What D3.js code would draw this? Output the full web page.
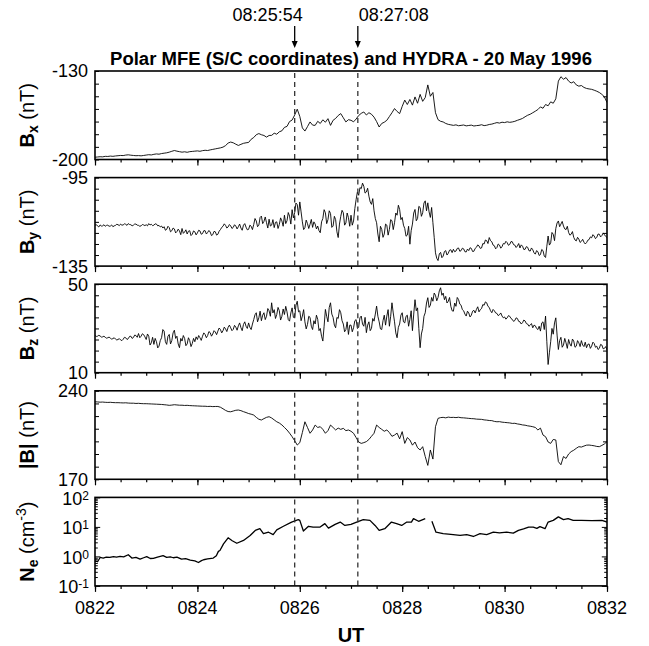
<!DOCTYPE html>
<html><head><meta charset="utf-8">
<script src="https://cdn.jsdelivr.net/npm/d3@7"></script>
<style>
body{margin:0;background:#fff}
text{font-family:"Liberation Sans",Arial,Helvetica,sans-serif;fill:#000}
</style>
</head><body>
<svg id="c" width="649" height="646"></svg>
<script>
// ---- DATA ----
// magnetometer samples: minutes after 08:22 UT
const timeStart = 0;
const coarseStep = 0.05;   // Bx, |B|
const fineStep = 0.025;    // By, Bz
const xTickLabels = ["0822","0824","0826","0828","0830","0832"];
const markerTimes = [3.9, 5.1333];          // 08:25:54, 08:27:08
const markerLabels = ["08:25:54","08:27:08"];
const titleText = "Polar MFE (S/C coordinates) and HYDRA - 20 May 1996";

const bxValues = [
-198.2,-198.0,-197.8,-197.9,-197.5,-197.6,-197.3,-197.5,-197.2,-197.0,-196.8,-196.9,-196.5,-196.3,-196.6,-196.8,-197.0,-196.9,-197.1,-196.8,
-196.5,-196.2,-196.4,-195.9,-195.6,-195.8,-195.3,-195.0,-194.7,-194.2,-193.5,-192.9,-193.4,-193.8,-194.2,-193.9,-194.3,-193.8,-193.6,-193.4,
-193.2,-193.5,-193.0,-192.7,-192.9,-192.4,-192.0,-191.6,-191.2,-190.8,-190.2,-189.0,-187.0,-186.2,-186.8,-187.9,-188.9,-188.0,-187.2,-186.8,
-186.5,-184.0,-182.6,-180.4,-179.5,-180.4,-181.0,-182.3,-181.0,-180.9,-179.2,-180.0,-178.1,-177.3,-174.6,-173.8,-170.0,-168.8,-164.8,-160.2,
-166.0,-175.0,-177.5,-174.0,-170.3,-172.8,-173.0,-169.8,-171.5,-168.6,-170.5,-167.7,-173.0,-169.0,-167.5,-165.2,-163.7,-167.0,-170.3,-168.5,
-169.0,-170.2,-168.0,-165.2,-163.5,-162.4,-164.8,-163.0,-164.2,-166.5,-170.0,-174.3,-171.5,-170.5,-169.0,-166.0,-163.0,-159.7,-162.0,-163.7,
-158.0,-153.0,-156.5,-152.5,-157.0,-150.5,-155.5,-148.5,-154.0,-151.0,-141.0,-150.0,-147.0,-163.0,-168.5,-169.8,-170.3,-171.5,-172.2,-172.6,
-173.0,-172.6,-173.3,-173.0,-172.7,-173.4,-173.1,-172.8,-173.5,-173.2,-173.0,-172.5,-173.2,-172.9,-172.3,-172.0,-171.4,-170.8,-171.2,-170.5,
-170.8,-170.2,-170.6,-170.3,-169.8,-169.0,-168.3,-167.5,-166.2,-165.0,-164.2,-163.0,-161.8,-160.5,-158.4,-159.5,-156.5,-157.5,-154.4,-155.5,
-152.0,-138.0,-134.5,-136.5,-135.2,-138.0,-139.5,-138.5,-141.0,-142.0,-141.5,-143.0,-143.8,-144.2,-144.5,-145.2,-146.0,-147.0,-148.5,-150.5,
-155.0];

const byValues = [
-116.6,-116.2,-116.9,-117.3,-116.4,-116.9,-116.8,-116.3,-117.0,-116.6,-116.5,-117.0,-116.9,-116.4,-117.2,-116.8,-116.6,-116.1,-116.3,-116.7,
-116.0,-116.5,-116.4,-115.9,-116.1,-116.6,-115.8,-116.2,-116.3,-116.8,-116.5,-116.0,-116.0,-116.5,-116.6,-117.0,-116.8,-116.2,-116.4,-116.7,
-116.3,-116.8,-115.8,-116.4,-116.1,-116.7,-116.5,-115.9,-116.0,-116.8,-116.6,-117.3,-116.9,-117.8,-117.2,-118.8,-118.4,-117.0,-117.6,-119.5,
-119.0,-117.8,-118.2,-120.0,-119.4,-118.3,-119.1,-120.8,-118.0,-120.2,-119.6,-118.6,-120.5,-119.2,-119.0,-121.2,-120.6,-119.1,-119.5,-120.9,
-120.0,-118.8,-119.1,-120.6,-120.3,-119.0,-119.0,-120.5,-119.8,-118.9,-119.6,-121.2,-120.8,-119.3,-119.5,-121.0,-120.6,-119.2,-118.5,-117.5,
-117.0,-115.9,-116.6,-117.8,-117.3,-116.2,-116.8,-118.0,-117.5,-116.3,-116.9,-118.2,-117.2,-116.0,-117.8,-118.8,-116.5,-115.8,-117.4,-118.6,
-118.4,-116.5,-117.0,-118.5,-116.2,-113.5,-114.6,-117.2,-116.5,-113.0,-112.4,-115.8,-114.8,-112.8,-115.4,-117.8,-113.8,-116.9,-116.5,-114.0,
-117.6,-115.2,-115.0,-118.0,-116.2,-113.2,-114.6,-117.0,-112.0,-115.8,-114.5,-110.8,-112.4,-116.0,-109.5,-113.2,-110.8,-106.5,-107.2,-112.0,
-106.0,-110.5,-115.0,-118.5,-117.6,-114.2,-115.8,-118.0,-116.1,-113.9,-117.5,-115.0,-116.0,-118.2,-116.9,-119.0,-119.9,-115.0,-113.5,-109.5,
-110.9,-115.8,-114.0,-110.0,-111.2,-117.5,-116.9,-112.5,-114.0,-119.5,-122.1,-116.0,-112.5,-109.8,-110.9,-116.5,-115.5,-111.0,-113.1,-117.0,
-112.0,-116.5,-114.6,-109.0,-104.9,-101.5,-103.0,-99.5,-100.0,-97.5,-98.9,-102.0,-101.5,-99.8,-103.4,-106.0,-107.1,-104.5,-110.0,-113.5,
-115.4,-120.5,-124.0,-117.0,-118.4,-122.0,-120.5,-116.0,-116.5,-121.0,-118.4,-114.0,-114.5,-118.5,-115.4,-111.0,-112.0,-107.5,-109.4,-114.0,
-113.0,-116.5,-118.0,-121.5,-121.0,-117.0,-125.1,-119.0,-116.0,-111.0,-109.4,-114.5,-113.5,-108.0,-108.5,-112.5,-110.9,-106.5,-105.5,-110.0,
-106.4,-110.5,-113.0,-108.5,-115.4,-122.0,-129.0,-131.5,-132.5,-129.5,-128.8,-131.2,-130.5,-128.4,-128.0,-130.0,-129.2,-127.8,-127.6,-128.9,
-127.4,-128.5,-128.2,-127.0,-126.8,-128.3,-128.0,-126.9,-127.2,-128.5,-128.6,-127.3,-128.0,-126.7,-127.0,-128.4,-128.3,-127.0,-126.5,-125.4,
-125.9,-127.0,-126.8,-124.8,-125.0,-123.2,-123.5,-124.8,-122.1,-123.5,-124.0,-125.5,-125.8,-127.2,-126.6,-125.0,-125.5,-126.9,-126.2,-124.8,
-125.0,-123.8,-124.4,-125.6,-125.2,-123.9,-124.0,-125.3,-125.5,-126.6,-125.9,-124.8,-126.8,-125.4,-126.0,-127.5,-127.4,-126.2,-126.5,-128.0,
-128.2,-126.8,-127.6,-129.0,-129.6,-128.0,-128.5,-130.2,-129.8,-127.5,-128.0,-130.5,-131.1,-126.0,-121.4,-125.5,-124.5,-119.8,-120.6,-123.5,
-118.0,-115.5,-114.6,-117.2,-116.0,-114.8,-116.9,-118.2,-118.5,-117.0,-119.8,-121.0,-120.6,-119.4,-122.0,-123.2,-123.6,-122.0,-122.8,-124.3,
-123.8,-122.9,-124.2,-125.0,-124.4,-123.3,-123.0,-121.8,-122.2,-120.8,-121.4,-122.6,-122.0,-120.5,-120.6,-121.8,-121.2,-120.0,-120.8,-121.6,
-122.1];

const bzValues = [
26.8,26.4,26.5,26.9,26.6,26.1,26.2,26.5,26.0,25.6,25.8,26.1,25.6,25.2,25.4,25.8,25.2,24.8,25.0,25.4,
24.8,24.5,25.1,26.0,25.8,25.0,25.4,26.4,26.5,25.5,25.9,27.0,26.8,26.0,27.7,25.8,26.5,27.6,27.2,26.2,
25.0,27.5,26.5,22.5,23.5,26.0,22.8,25.5,24.0,21.2,22.0,24.5,25.8,29.5,28.8,24.0,22.8,26.5,27.3,23.0,
24.5,28.0,29.2,25.5,26.5,23.0,21.3,25.5,24.3,26.8,25.5,22.2,23.0,25.8,24.5,21.8,23.2,25.5,24.0,26.2,
25.0,26.8,25.8,24.6,26.5,28.0,27.3,25.8,26.8,28.6,28.1,26.5,27.5,29.0,28.4,27.2,28.8,30.2,29.5,28.0,
29.0,30.6,29.8,28.6,30.5,31.5,30.3,29.0,29.6,31.4,30.6,29.2,31.2,32.5,30.4,29.0,31.8,33.0,31.0,30.0,
32.5,30.5,29.5,32.0,34.0,36.2,37.1,33.0,34.8,37.8,33.5,36.0,37.1,34.0,35.5,39.0,38.0,35.5,41.6,37.0,
38.5,34.5,36.3,39.5,38.0,33.8,35.5,38.8,36.3,40.0,37.5,34.0,33.3,37.0,39.3,35.0,35.0,40.5,42.3,37.5,
38.0,33.5,35.6,38.5,33.0,29.8,31.8,35.5,35.0,31.0,29.5,33.5,32.0,36.0,34.1,29.0,30.0,26.5,24.3,31.0,
38.6,35.5,33.0,39.5,41.6,36.5,35.0,31.5,30.3,35.0,34.5,38.5,37.1,33.5,32.0,28.5,29.5,33.0,27.3,31.5,
31.5,28.5,30.3,33.5,34.0,30.0,30.5,34.8,35.6,32.0,31.0,35.0,28.1,31.5,33.0,29.0,30.0,34.5,33.3,36.5,
40.1,35.5,33.0,29.8,29.5,33.5,36.0,31.5,35.6,38.5,31.0,35.5,41.6,37.0,33.0,28.0,25.8,30.5,32.0,36.0,
37.1,33.0,32.5,35.5,36.0,31.0,34.1,38.0,29.0,36.5,43.0,38.0,39.3,30.0,21.3,27.5,30.0,35.5,37.1,41.5,
43.9,39.5,40.5,44.0,42.3,46.0,45.0,42.5,44.0,47.0,48.4,45.0,46.0,43.0,44.5,41.5,42.3,44.0,40.0,38.0,
37.8,41.5,40.0,44.0,43.1,41.0,40.5,38.5,38.0,36.5,35.6,37.8,37.0,35.2,36.0,37.8,38.2,37.0,38.6,39.8,
37.5,38.5,39.0,40.8,40.5,42.0,41.6,40.0,39.5,38.0,37.1,38.6,38.0,37.0,36.8,35.8,36.2,37.0,35.6,34.8,
35.2,34.2,34.8,35.8,35.5,34.5,34.1,33.2,33.6,34.8,34.5,33.2,33.0,32.0,32.6,33.8,33.4,32.2,32.0,31.0,
31.5,32.2,30.3,31.5,31.2,30.0,29.5,31.0,28.8,32.5,33.0,29.5,35.6,24.0,13.7,19.0,24.0,30.0,27.4,32.5,
34.8,27.0,20.5,24.5,26.0,21.5,22.5,25.5,23.5,21.0,25.0,23.0,22.0,25.2,24.3,21.5,22.0,24.5,23.5,21.8,
24.5,22.5,21.8,23.8,21.3,22.8,23.0,21.0,22.0,23.8,23.2,21.5,22.0,20.5,21.0,22.8,22.5,20.8,21.0,21.8,
20.3];

const bmagValues = [
231.3,231.2,231.0,231.1,230.9,230.8,230.9,230.7,230.6,230.6,230.5,230.4,230.5,230.3,230.2,230.2,230.0,230.1,229.9,229.8,
229.8,229.7,229.6,229.5,229.4,229.3,229.2,229.0,228.8,228.5,228.7,229.0,228.8,228.6,228.6,228.4,228.5,228.3,228.2,228.1,
228.0,227.9,227.8,227.8,227.6,227.7,227.5,227.6,227.6,227.0,225.8,224.5,223.6,223.4,224.0,224.6,224.8,224.3,223.5,222.8,
222.0,221.5,220.8,219.0,217.5,216.9,218.0,219.0,219.5,218.5,217.0,215.5,214.5,213.0,211.0,209.0,206.5,203.7,200.5,197.1,
199.0,207.0,215.5,211.0,206.4,209.0,212.9,211.0,211.6,209.5,206.4,208.5,212.9,211.0,209.0,210.5,209.5,210.3,208.5,209.0,
208.0,206.4,203.0,199.5,198.4,199.0,199.8,201.5,204.0,206.4,212.9,211.0,209.5,208.0,209.0,207.0,204.0,205.0,206.5,202.0,
207.7,198.4,203.0,201.1,197.0,199.5,195.0,193.2,195.8,188.0,181.0,193.2,186.0,211.6,218.2,218.8,219.0,218.6,219.2,218.9,
219.0,218.8,219.1,218.7,218.6,218.4,218.2,218.0,217.9,217.6,217.5,217.4,217.0,216.8,216.5,216.4,215.8,215.5,215.6,215.2,
215.0,214.8,214.6,214.2,214.3,213.8,213.5,213.0,212.8,212.3,212.0,211.6,211.0,209.0,210.5,205.0,203.7,199.5,198.4,201.5,
201.1,184.0,181.5,188.0,186.5,190.0,191.9,193.0,194.5,195.8,195.5,196.3,197.0,197.1,196.8,196.5,196.0,195.8,196.8,198.0,
199.8];

// HYDRA electron density (cm^-3), minutes after 08:22 UT; null = data gap
const neTime = [
0.00,0.05,0.10,0.16,0.22,0.29,0.36,0.42,0.49,0.56,
0.65,0.72,0.80,0.88,0.95,1.01,1.08,1.14,1.22,1.33,
1.40,1.47,1.53,1.60,1.69,1.77,1.86,1.95,2.02,2.08,
2.12,2.20,2.31,2.37,2.41,2.44,2.51,2.60,2.68,2.77,
2.90,3.03,3.13,3.22,3.29,3.39,3.48,3.55,3.68,3.84,
3.97,4.00,4.07,4.17,4.26,4.39,4.49,4.56,4.69,4.79,
4.88,5.00,5.11,5.24,5.37,5.47,5.55,5.66,5.79,5.89,
5.99,6.09,6.18,6.22,6.32,6.45,6.50,6.58,6.66,6.80,
6.95,7.13,7.26,7.39,7.52,7.65,7.78,7.90,8.04,8.17,
8.27,8.37,8.47,8.56,8.63,8.69,8.79,8.85,8.95,9.05,
9.15,9.24,9.34,9.50,9.70,9.90,10.00];
const neValue = [
0.71,0.66,0.92,0.88,0.95,0.92,0.98,0.95,1.00,0.97,
1.14,0.88,0.93,0.81,0.90,0.98,0.85,0.86,0.95,1.06,
0.93,0.97,0.90,0.95,0.81,0.84,0.75,0.70,0.62,0.72,
0.77,0.82,0.88,1.05,1.48,1.58,2.66,4.27,3.40,2.79,
3.47,5.13,7.59,8.71,5.89,6.61,5.50,7.94,10.5,14.6,
17.6,16.6,7.24,10.5,9.77,9.77,12.9,9.12,12.2,14.6,
11.2,12.2,14.6,17.6,16.6,11.2,7.59,8.71,14.6,12.9,
11.2,14.6,14.6,19.1,15.5,19.1,null,15.5,6.61,5.89,
5.60,5.13,5.50,4.73,5.89,5.50,6.61,6.30,6.61,6.17,
7.60,8.50,9.80,9.77,8.90,10.2,8.70,14.6,16.6,21.9,
17.6,19.1,16.6,16.6,16.2,16.6,14.6];

const neTickLabels = [[0.1,"-1"],[1,"0"],[10,"1"],[100,"2"]];

// ---- DRAWING ----
const svg = d3.select("#c");
const FONT = 18;
const x = d3.scaleLinear().domain([0, 10]).range([95, 607]);
const panelTop0 = 71, panelStep = 106.6, panelH = 88.5;

const panels = [
  {values: bxValues, step: coarseStep, domain: [-200, -130], tstep: 10,
   label: [{t:"B", w:"bold"}, {t:"x", w:"bold", sub:true}, {t:" (nT)"}]},
  {values: byValues, step: fineStep, domain: [-135, -95], tstep: 5,
   label: [{t:"B", w:"bold"}, {t:"y", w:"bold", sub:true}, {t:" (nT)"}]},
  {values: bzValues, step: fineStep, domain: [10, 50], tstep: 5,
   label: [{t:"B", w:"bold"}, {t:"z", w:"bold", sub:true}, {t:" (nT)"}]},
  {values: bmagValues, step: coarseStep, domain: [170, 240], tstep: 10,
   label: [{t:"|B|", w:"bold"}, {t:" (nT)"}]},
  {log: true, domain: [0.1, 100],
   label: [{t:"N", w:"bold"}, {t:"e", w:"bold", sub:true}, {t:" (cm"}, {t:"-3", sup:true}, {t:")"}]}
];

const defs = svg.append("defs");

panels.forEach((p, i) => {
  const top = panelTop0 + i * panelStep, bot = top + panelH;
  const y = (p.log ? d3.scaleLog() : d3.scaleLinear()).domain(p.domain).range([bot, top]);
  const g = svg.append("g");

  defs.append("clipPath").attr("id", "clip" + i)
    .append("rect").attr("x", x(0)).attr("y", top).attr("width", x(10) - x(0)).attr("height", panelH);

  // data line
  if (!p.log) {
    const line = d3.line().x((d, j) => x(timeStart + j * p.step)).y(d => y(d));
    g.append("path").datum(p.values).attr("clip-path", `url(#clip${i})`)
      .attr("d", line).attr("fill", "none").attr("stroke", "#000")
      .attr("stroke-width", 0.9).attr("stroke-linejoin", "round");
  } else {
    const pts = neTime.map((t, j) => ({t, v: neValue[j]}));
    const line = d3.line().defined(d => d.v != null).x(d => x(d.t)).y(d => y(d.v));
    g.append("path").datum(pts).attr("clip-path", `url(#clip${i})`)
      .attr("d", line).attr("fill", "none").attr("stroke", "#000")
      .attr("stroke-width", 1.3).attr("stroke-linejoin", "round");
  }

  // dashed event lines
  markerTimes.forEach(t => {
    g.append("line").attr("x1", x(t)).attr("x2", x(t)).attr("y1", top + 2).attr("y2", bot)
      .attr("stroke", "#333").attr("stroke-width", 1.3).attr("stroke-dasharray", "5,4");
  });

  // y ticks (inward, both sides)
  let ticks, majorTest;
  if (!p.log) {
    ticks = d3.range(p.domain[0], p.domain[1] + 0.001, p.tstep);
    majorTest = () => true;
  } else {
    ticks = y.ticks();
    majorTest = v => Math.abs(Math.log10(v) - Math.round(Math.log10(v))) < 1e-6;
  }
  const yL = g.append("g").attr("transform", `translate(${x(0)},0)`)
    .call(d3.axisLeft(y).tickValues(ticks).tickFormat("").tickSizeOuter(0).tickSizeInner(-4));
  const yR = g.append("g").attr("transform", `translate(${x(10)},0)`)
    .call(d3.axisRight(y).tickValues(ticks).tickFormat("").tickSizeOuter(0).tickSizeInner(-4));
  [yL, yR].forEach(a => {
    a.select(".domain").remove();
    a.selectAll(".tick line").attr("stroke", "#000").attr("stroke-width", 1)
      .attr("x2", function(d){ const s = +d3.select(this).attr("x2"); return majorTest(d) ? s * (p.log ? 1.3 : 1) : s * 0.7; });
  });

  // x ticks (outward at bottom)
  const minor = x.ticks(20);
  const major = x.ticks(5);
  const xa = g.append("g").attr("transform", `translate(0,${bot})`)
    .call(d3.axisBottom(x).tickValues(minor).tickFormat("").tickSizeOuter(0).tickSizeInner(3));
  xa.select(".domain").remove();
  xa.selectAll(".tick line").attr("stroke-width", 1.2);
  const xb = g.append("g").attr("transform", `translate(0,${bot})`)
    .call(d3.axisBottom(x).tickValues(major).tickFormat("").tickSizeOuter(0).tickSizeInner(6));
  xb.select(".domain").remove();
  xb.selectAll(".tick line").attr("stroke-width", 1.2);

  // frame
  g.append("rect").attr("x", x(0)).attr("y", top).attr("width", x(10) - x(0)).attr("height", panelH)
    .attr("fill", "none").attr("stroke", "#000").attr("stroke-width", 1.6);

  // y tick labels
  if (!p.log) {
    [p.domain[0], p.domain[1]].forEach(v => {
      g.append("text").attr("x", 88).attr("y", y(v)).attr("dy", "0.36em")
        .attr("text-anchor", "end").style("font-size", FONT + "px").text(v);
    });
  } else {
    neTickLabels.forEach(([v, e]) => {
      const t = g.append("text").attr("x", 89).attr("y", y(v) + 1).attr("dy", "0.36em")
        .attr("text-anchor", "end").style("font-size", FONT + "px");
      t.append("tspan").text("10");
      t.append("tspan").attr("dy", -5).style("font-size", "12px").text(e);
    });
    // x tick labels
    major.forEach((v, k) => {
      g.append("text").attr("x", x(v)).attr("y", 613.5).attr("text-anchor", "middle")
        .style("font-size", FONT + "px").text(xTickLabels[k]);
    });
  }

  // y axis label (rotated)
  const lab = svg.append("text")
    .attr("transform", `translate(33.5,${(top + bot) / 2}) rotate(-90)`)
    .attr("text-anchor", "middle").style("font-size", "20px");
  let shift = 0;
  p.label.forEach(s => {
    const ts = lab.append("tspan").text(s.t).style("font-weight", s.w || "normal");
    let target = 0;
    if (s.sub) { ts.style("font-size", "14px"); target = 4; }
    if (s.sup) { ts.style("font-size", "14px"); target = -8; }
    if (target - shift !== 0) ts.attr("dy", target - shift);
    shift = target;
  });
});

// UT label
svg.append("text").attr("x", (x(0) + x(10)) / 2).attr("y", 641.5).attr("text-anchor", "middle")
  .style("font-size", "20px").style("font-weight", "bold").text("UT");

// title
const title = svg.append("text").attr("x", 351).attr("y", 65).attr("text-anchor", "middle")
  .style("font-size", "18px").style("font-weight", "bold").text(titleText);
const tw = title.node().getComputedTextLength();
title.style("font-size", (18 * 482 / tw).toFixed(2) + "px");

// event markers: labels and arrows
markerTimes.forEach((t, k) => {
  const xm = x(t);
  svg.append("text")
    .attr("x", k === 0 ? xm + 8 : xm + 1).attr("y", 21)
    .attr("text-anchor", k === 0 ? "end" : "start")
    .style("font-size", FONT + "px").text(markerLabels[k]);
  svg.append("line").attr("x1", xm).attr("x2", xm).attr("y1", 26).attr("y2", 42)
    .attr("stroke", "#000").attr("stroke-width", 1.3);
  svg.append("path").attr("d", `M${xm - 3},${41} L${xm + 3},${41} L${xm},${48} Z`).attr("fill", "#000");
});
</script>
</body></html>
